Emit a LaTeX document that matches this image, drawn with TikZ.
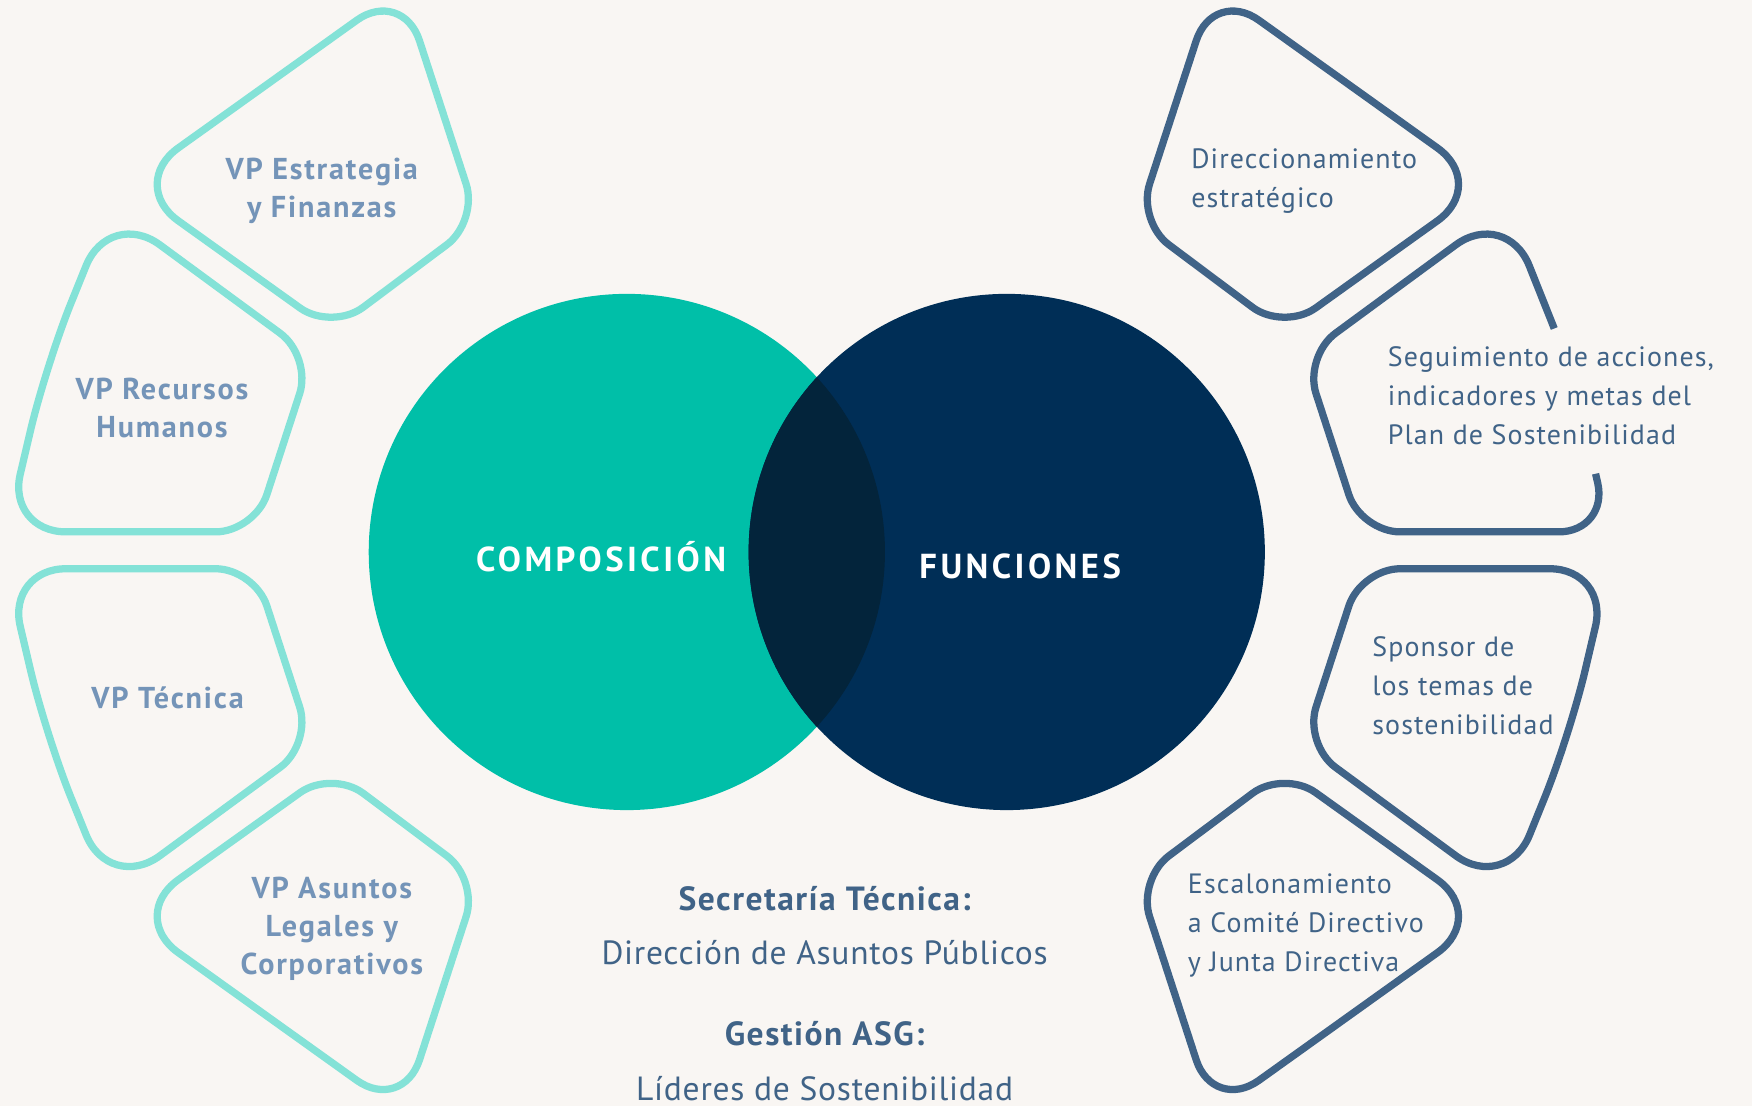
\documentclass[tikz,border=0pt]{standalone}
\usepackage{fontspec}
\setmainfont{PT Sans}
\newfontfamily\vpfont[LetterSpace=6]{PT Sans}
\newfontfamily\rolefont[LetterSpace=4]{PT Sans}
\newfontfamily\vennfont[LetterSpace=10]{PT Sans}
\newfontfamily\footfont[LetterSpace=2.2]{PT Sans}
\newfontfamily\footboldfont[LetterSpace=4.5]{PT Sans}
\usetikzlibrary{positioning}

\definecolor{paper}{HTML}{F9F6F3}
\definecolor{tealline}{HTML}{84E2D7}
\definecolor{tealfill}{HTML}{00BFA8}
\definecolor{navyfill}{HTML}{002E56}
\definecolor{overlapfill}{HTML}{03243B}
\definecolor{vptext}{HTML}{7494B8}
\definecolor{steel}{HTML}{406387}

\begin{document}
\begin{tikzpicture}[x=1pt,y=-1pt,
        vpblob/.style={draw=tealline, line width=6.5pt},
        roleblob/.style={draw=steel, line width=6.5pt},
        wide arc/.style={rounded corners=56pt},
        tight arc/.style={rounded corners=35pt},
        vplabel/.style={text=vptext, align=center, inner sep=0pt,
            font=\vpfont\bfseries\fontsize{27}{34}\selectfont},
        rolelabel/.style={text=steel, align=left, anchor=west, inner sep=0pt,
            font=\rolefont\fontsize{25}{35}\selectfont},
        venn/.style={circle, minimum size=462pt, inner sep=0pt},
        venntext/.style={text=white, inner sep=0pt,
            font=\vennfont\bfseries\fontsize{31}{31}\selectfont},
        foottitle/.style={text=steel, inner sep=0pt, anchor=base,
            font=\footboldfont\bfseries\fontsize{30}{30}\selectfont},
        footname/.style={text=steel, inner sep=0pt, anchor=base,
            font=\footfont\fontsize{30}{30}\selectfont}]
    \path[use as bounding box, fill=paper] (0,0) rectangle (1568,989.8);

    % venn circles
    \node[venn, fill=tealfill] (comp) at (561,494) {};
    \node[venn, fill=navyfill] (func) at (901,494) {};
    \begin{scope}
        \clip (comp.center) circle (231pt);
        \fill[overlapfill] (func.center) circle (231pt);
    \end{scope}
    \node[venntext] (comptext) at (538,498) {COMPOSICIÓN};
    \node[venntext] (functext) at (913,507) {FUNCIONES};

    % composicion: teal blobs (corner radius set just before each corner)
    \draw[vpblob] (114,165) [tight arc] -- (297,296) [tight arc] -- (428,198)
        [rounded corners=50pt] -- (360,-11) [wide arc] -- cycle;
    \draw[vpblob] (98,186) [tight arc] -- (279,319) [tight arc] -- (228,476)
        [rounded corners=53pt] -- (6,476) [rounded corners=60pt] -- (41,327) [wide arc] -- cycle;
    \draw[vpblob] (6,509) [tight arc] -- (228,509) [tight arc] -- (279,666)
        [wide arc] -- (98,799) [rounded corners=60pt] -- (41,658) [rounded corners=53pt] -- cycle;
    \draw[vpblob] (114,820) [rounded corners=50pt] -- (360,996) [tight arc] -- (428,787)
        [tight arc] -- (297,689) [wide arc] -- cycle;
    \node[vplabel] (estrategia) at (288,171) {VP Estrategia\\y Finanzas};
    \node[vplabel] (recursos) at (145,365) {VP Recursos\\Humanos};
    \node[vplabel] (tecnica) at (150,625) {VP Técnica};
    \node[vplabel] (asuntos) at (297,831) {VP Asuntos\\Legales y\\Corporativos};

    % funciones: steel blobs
    \draw[roleblob] (1332,165) [tight arc] -- (1149,296) [tight arc] -- (1018,198)
        [rounded corners=50pt] -- (1086,-11) [wide arc] -- cycle;
    \draw[roleblob] (1391,294) [wide arc] -- (1348,186) [tight arc] -- (1167,319)
        [tight arc] -- (1218,476) [rounded corners=45pt] -- (1440,476) -- (1428,424);
    \draw[roleblob] (1440,509) [tight arc] -- (1218,509) [tight arc] -- (1167,666)
        [wide arc] -- (1348,799) [rounded corners=60pt] -- (1405,658) [rounded corners=53pt] -- cycle;
    \draw[roleblob] (1332,820) [rounded corners=50pt] -- (1086,996) [tight arc] -- (1018,787)
        [tight arc] -- (1149,689) [wide arc] -- cycle;
    \node[rolelabel] (direccionamiento) at (1066,162) {Direccionamiento\\estratégico};
    \node[rolelabel] (seguimiento) at (1242,354) {Seguimiento de acciones,\\indicadores y metas del\\Plan de Sostenibilidad};
    \node[rolelabel] (sponsor) at (1228,614) {Sponsor de\\los temas de\\sostenibilidad};
    \node[rolelabel] (escalonamiento) at (1063,828) {Escalonamiento\\a Comité Directivo\\y Junta Directiva};

    % secretaria y gestion
    \node[foottitle] (secretaria) at (738,815) {Secretaría Técnica:};
    \node[footname] (publicos) at (738,863) {Dirección de Asuntos Públicos};
    \node[foottitle] (gestion) at (738,936) {Gestión ASG:};
    \node[footname] (lideres) at (738,984.5) {Líderes de Sostenibilidad};
\end{tikzpicture}
\end{document}
